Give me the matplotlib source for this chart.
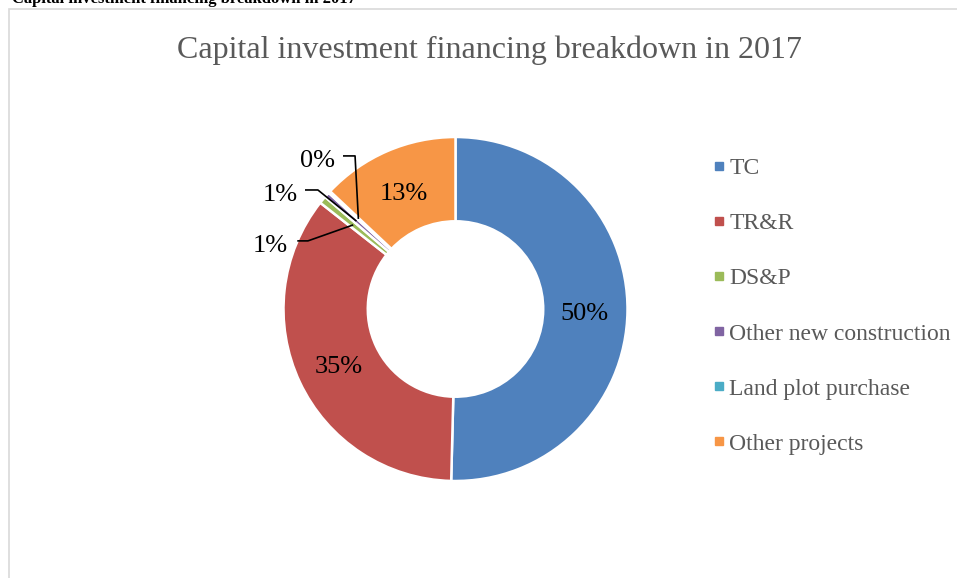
import numpy as np
import matplotlib.pyplot as plt
from matplotlib.patches import Rectangle
from matplotlib.lines import Line2D

plt.rcParams['font.family'] = ['Liberation Serif', 'DejaVu Serif']

# data
categories = ['TC', 'TR&R', 'DS&P', 'Other new construction', 'Land plot purchase', 'Other projects']
shares = [50.4, 35.2, 0.7, 0.5, 0.2, 13.0]
pct_labels = ['50%', '35%', '1%', '1%', '0%', '13%']
colors = ['#4F81BD', '#C0504D', '#9BBB59', '#8064A2', '#4BACC6', '#F79646']

W, H = 957, 578
fig = plt.figure(figsize=(W / 100, H / 100), dpi=100)

# outer frame of the chart area (cut off on right and bottom)
fig.patches.append(Rectangle((9 / W, -0.1), 1.2, 1 - 9 / H + 0.1, transform=fig.transFigure,
                             fill=False, edgecolor='#D9D9D9', linewidth=1.2))

# cropped heading above the chart
fig.text(12 / W, 1 - 3 / H, 'Capital investment financing breakdown in 2017',
         fontsize=12, fontweight='bold', color='black', ha='left', va='baseline')

fig.text(489 / W, 1 - 50 / H, 'Capital investment financing breakdown in 2017',
         fontsize=23, color='#595959', ha='center', va='center')

# pie axes: centre at (455.5, 309) px, radius 172 px
cx, cy, R = 455.5, 309, 172
half = 200
ax = fig.add_axes([(cx - half) / W, (H - cy - half) / H, 2 * half / W, 2 * half / H])

wedges, _ = ax.pie(shares, colors=colors, startangle=90, counterclock=False,
                   radius=1.0, wedgeprops=dict(width=0.49, edgecolor='white', linewidth=1.8))
ax.set_xlim(-half / R, half / R)
ax.set_ylim(-half / R, half / R)
ax.set_aspect('equal')
ax.axis('off')

# labels inside big slices
for w, lab, s in zip(wedges, pct_labels, shares):
    if s < 5:
        continue
    ang = np.deg2rad((w.theta1 + w.theta2) / 2)
    ax.text(0.75 * np.cos(ang), 0.75 * np.sin(ang) - 0.02, lab, fontsize=19,
            ha='center', va='center', color='black')

# leader labels for small slices: (text x, text y, line start x, elbow x)
leader_pos = {
    2: (-1.078, 0.366, -0.92, -0.858),
    3: (-1.02, 0.662, -0.875, -0.80),
    4: (-0.80, 0.86, -0.654, -0.584),
}
for i, (tx, ty, lx, ex) in leader_pos.items():
    w = wedges[i]
    ang = np.deg2rad((w.theta1 + w.theta2) / 2)
    axx, axy = 0.77 * np.cos(ang), 0.77 * np.sin(ang)
    ly = ty + 0.03
    ax.plot([lx, ex, axx], [ly, ly, axy], color='black', linewidth=1.2, solid_capstyle='butt')
    ax.text(tx, ty, pct_labels[i], fontsize=19, ha='center', va='center', color='black')

# legend
handles = [Line2D([], [], marker='s', linestyle='none', markersize=5.5,
                  markerfacecolor=c, markeredgecolor=c) for c in colors]
fig.legend(handles, categories, loc='upper left', bbox_to_anchor=(702 / W, 1 - 146 / H),
           frameon=False, fontsize=17, labelcolor='#595959', handlelength=0.4,
           handletextpad=0.25, labelspacing=1.42, borderpad=0)

fig.savefig('out.png', dpi=100)
